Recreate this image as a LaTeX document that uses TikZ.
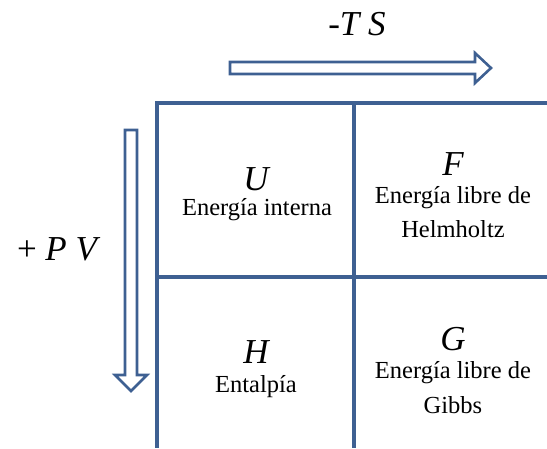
\documentclass[tikz,border=0pt]{standalone}
\usepackage{fontspec}
\setmainfont{Liberation Serif}
\definecolor{gridblue}{RGB}{62,96,146}
\begin{document}
\begin{tikzpicture}[x=1pt,y=-1pt,
  gridline/.style={draw=gridblue,line width=3.6pt},
  hollowarrow/.style={draw=gridblue,line width=2.6pt,fill=white,line join=miter},
  sym/.style={anchor=base,inner sep=0pt,font=\fontsize{35}{40}\selectfont\itshape},
  lbl/.style={anchor=base,inner sep=0pt,font=\fontsize{24.5}{28}\selectfont},
  axislbl/.style={anchor=base,inner sep=0pt,font=\fontsize{35}{40}\selectfont}]
\useasboundingbox (0,0) rectangle (547,448);
% grid
\draw[gridline] (547,103) -- (157,103) -- (157,448);
\draw[gridline] (354,103) -- (354,448);
\draw[gridline] (157,277) -- (547,277);
% horizontal hollow arrow
\draw[hollowarrow] (230,62) -- (475,62) -- (475,53) -- (491,68) -- (475,83) -- (475,74) -- (230,74) -- cycle;
% vertical hollow arrow
\draw[hollowarrow] (125,130) -- (137,130) -- (137,375) -- (147,375) -- (131,391) -- (115,375) -- (125,375) -- cycle;
% axis labels
\node[axislbl] (ts) at (357,35) {\itshape -T S};
\node[axislbl] (pv) at (57,260) {+ \itshape P V};
% cell U
\node[sym] (u) at (256,190) {U};
\node[lbl] (ul) at (257,215) {Energía interna};
% cell F
\node[sym] (f) at (453,175) {F};
\node[lbl] (fl1) at (453,203) {Energía libre de};
\node[lbl] (fl2) at (453,237) {Helmholtz};
% cell H
\node[sym] (h) at (256,363) {H};
\node[lbl] (hl) at (256,392) {Entalpía};
% cell G
\node[sym] (g) at (453,350) {G};
\node[lbl] (gl1) at (453,378) {Energía libre de};
\node[lbl] (gl2) at (453,413) {Gibbs};
\end{tikzpicture}
\end{document}
